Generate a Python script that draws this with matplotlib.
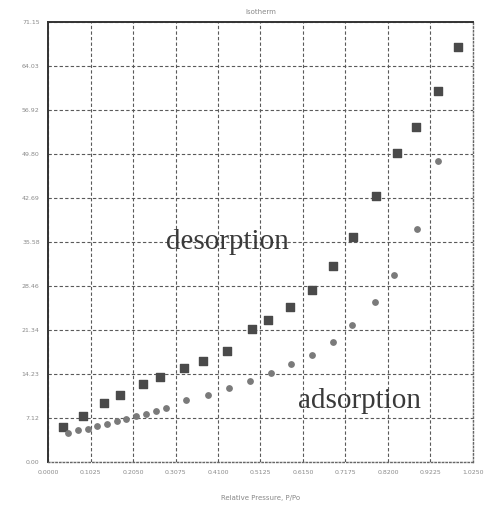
import numpy as np
import matplotlib
matplotlib.use('Agg')
import matplotlib.pyplot as plt

# isotherm data, relative pressure vs quantity
p_des = [0.0355, 0.0837, 0.1358, 0.1744, 0.2298, 0.2708, 0.3280, 0.3731, 0.4317, 0.4913,
         0.5306, 0.5837, 0.6367, 0.6881, 0.7363, 0.7903, 0.8410, 0.8875, 0.9399, 0.9881]
q_des = [5.71, 7.49, 9.49, 10.79, 12.66, 13.70, 15.15, 16.38, 17.95, 21.56,
         23.01, 25.06, 27.76, 31.74, 36.34, 43.06, 49.97, 54.22, 60.04, 67.06]

p_ads = [0.0490, 0.0716, 0.0972, 0.1182, 0.1416, 0.1657, 0.1888, 0.2122, 0.2356, 0.2605,
         0.2853, 0.3328, 0.3859, 0.4365, 0.4872, 0.5378, 0.5868, 0.6374, 0.6881, 0.7339,
         0.7887, 0.8352, 0.8892, 0.9399]
q_ads = [4.74, 5.17, 5.38, 5.77, 6.19, 6.63, 6.90, 7.44, 7.81, 8.25,
         8.78, 9.98, 10.88, 11.92, 13.10, 14.34, 15.85, 17.30, 19.40, 22.11,
         25.82, 30.24, 37.63, 48.62]

x_max = 1.025
y_max = 71.15
x_ticks = np.linspace(0, x_max, 11)
y_ticks = np.linspace(0, y_max, 11)

fig = plt.figure(figsize=(4.89, 5.11), dpi=100)
ax = fig.add_axes([0.0982, 0.0959, 0.869, 0.861])

ax.scatter(p_des, q_des, marker='s', s=26, color='#4a4a4a', zorder=3)
ax.scatter(p_ads, q_ads, marker='o', s=15, color='#7a7a7a', zorder=3)

ax.set_xlim(0, x_max)
ax.set_ylim(0, y_max)
ax.set_xticks(x_ticks)
ax.set_yticks(y_ticks)
ax.set_xticklabels(['%.4f' % v for v in x_ticks])
ax.set_yticklabels(['%.2f' % v for v in y_ticks])
ax.tick_params(labelsize=4.5, labelcolor='#8a8a8a', length=0, pad=6)
ax.grid(True, linestyle=(0, (3, 2)), color='#5a5a5a', linewidth=0.8)

for side in ['left', 'top']:
    ax.spines[side].set_color('#333333')
    ax.spines[side].set_linewidth(1.4)
for side in ['right', 'bottom']:
    ax.spines[side].set_color('#666666')
    ax.spines[side].set_linestyle(':')
    ax.spines[side].set_linewidth(1.0)

ax.set_title('Isotherm', fontsize=5, color='#888888', pad=6)
ax.set_xlabel('Relative Pressure, P/Po', fontsize=5, color='#888888', labelpad=14)

ax.text(0.4330, 35.6, 'desorption', fontsize=21, family='Liberation Serif',
        color='#3a3a3a', ha='center', va='center')
ax.text(0.7505, 9.8, 'adsorption', fontsize=21, family='Liberation Serif',
        color='#3a3a3a', ha='center', va='center')

fig.savefig('out.png', dpi=100)
